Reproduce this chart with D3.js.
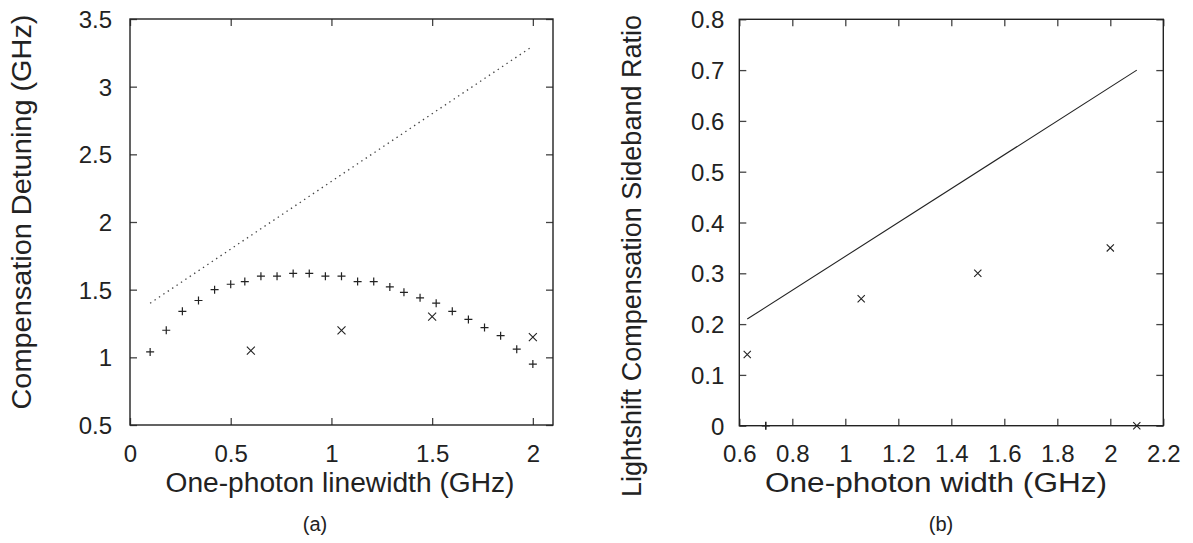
<!DOCTYPE html>
<html>
<head>
<meta charset="utf-8">
<script src="https://cdn.jsdelivr.net/npm/d3@7"></script>
<style>
  html, body { margin: 0; padding: 0; background: #fff; }
  svg { display: block; }
  text { font-family: "Liberation Sans", Arial, Helvetica, sans-serif; fill: #222; }
</style>
</head>
<body>
<svg id="chart" width="1193" height="543"></svg>
<script>
// ---------- data ----------
// Panel (a)
const aPlusX = [0.10, 0.18, 0.26, 0.34, 0.42, 0.50, 0.57, 0.65, 0.73, 0.81, 0.89, 0.97, 1.05,
                1.13, 1.21, 1.29, 1.36, 1.44, 1.52, 1.60, 1.68, 1.76, 1.84, 1.92, 2.00];
const aPlusY = [1.04, 1.20, 1.34, 1.42, 1.50, 1.54, 1.56, 1.60, 1.60, 1.62, 1.62, 1.60, 1.60,
                1.56, 1.56, 1.52, 1.48, 1.44, 1.40, 1.34, 1.28, 1.22, 1.16, 1.06, 0.95];
const aCrossX = [0.60, 1.05, 1.50, 2.00];
const aCrossY = [1.05, 1.20, 1.30, 1.15];
const aLineX = [0.10, 2.00];
const aLineY = [1.40, 3.30];
const aXTicks = [0, 0.5, 1, 1.5, 2];
const aYTicks = [0.5, 1, 1.5, 2, 2.5, 3, 3.5];
const aXDomain = [0, 2.1];
const aYDomain = [0.5, 3.5];
const aXTitle = "One-photon linewidth (GHz)";
const aYTitle = "Compensation Detuning (GHz)";

// Panel (b)
const bCrossX = [0.63, 1.06, 1.50, 2.00, 2.10];
const bCrossY = [0.14, 0.25, 0.30, 0.35, 0.00];
const bPlusX = [0.70];
const bPlusY = [0.00];
const bLineX = [0.63, 2.10];
const bLineY = [0.21, 0.70];
const bXTicks = [0.6, 0.8, 1, 1.2, 1.4, 1.6, 1.8, 2, 2.2];
const bYTicks = [0, 0.1, 0.2, 0.3, 0.4, 0.5, 0.6, 0.7, 0.8];
const bXDomain = [0.6, 2.2];
const bYDomain = [0, 0.8];
const bXTitle = "One-photon width (GHz)";
const bYTitle = "Lightshift Compensation Sideband Ratio";

// ---------- drawing ----------
const svg = d3.select("#chart");
const INK = "#222";

function panel(cfg) {
  const g = svg.append("g");
  const x = d3.scaleLinear().domain(cfg.xDomain).range([cfg.left, cfg.right]);
  const y = d3.scaleLinear().domain(cfg.yDomain).range([cfg.bottom, cfg.top]);
  const fmt = d => String(+d.toFixed(2));

  const xb = g.append("g").attr("transform", `translate(0,${cfg.bottom})`)
    .call(d3.axisBottom(x).tickValues(cfg.xTicks).tickFormat(fmt).tickSize(-7).tickPadding(cfg.xPad));
  const xt = g.append("g").attr("transform", `translate(0,${cfg.top})`)
    .call(d3.axisTop(x).tickValues(cfg.xTicks).tickFormat("").tickSize(-7));
  const yl = g.append("g").attr("transform", `translate(${cfg.left},0)`)
    .call(d3.axisLeft(y).tickValues(cfg.yTicks).tickFormat(fmt).tickSize(-7).tickPadding(cfg.yPad));
  const yr = g.append("g").attr("transform", `translate(${cfg.right},0)`)
    .call(d3.axisRight(y).tickValues(cfg.yTicks).tickFormat("").tickSize(-7));
  [xb, xt, yl, yr].forEach(a => {
    a.select(".domain").remove();
    a.selectAll(".tick line").attr("stroke", "#444").attr("stroke-width", 1.3);
    a.selectAll("text").attr("font-size", cfg.tickFont).attr("fill", INK)
      .style("font-family", '"Liberation Sans", Arial, sans-serif');
  });
  yl.selectAll("text").attr("dy", "0.36em");

  g.append("rect")
    .attr("x", cfg.left).attr("y", cfg.top)
    .attr("width", cfg.right - cfg.left).attr("height", cfg.bottom - cfg.top)
    .attr("fill", "none").attr("stroke", INK).attr("stroke-width", 1.4);

  const lineData = cfg.lineX.map((v, i) => [v, cfg.lineY[i]]);
  g.append("path")
    .attr("d", d3.line().x(d => x(d[0])).y(d => y(d[1]))(lineData))
    .attr("fill", "none")
    .attr("stroke", cfg.lineDash ? "#444" : INK)
    .attr("stroke-width", cfg.lineDash ? 1.3 : 1.1)
    .attr("stroke-dasharray", cfg.lineDash || null);

  const plusData = cfg.plusX.map((v, i) => [v, cfg.plusY[i]]);
  const ps = cfg.plusSize;
  g.append("g").selectAll("path").data(plusData).join("path")
    .attr("d", d => `M${x(d[0]) - ps},${y(d[1])}H${x(d[0]) + ps}M${x(d[0])},${y(d[1]) - ps}V${y(d[1]) + ps}`)
    .attr("stroke", INK).attr("stroke-width", cfg.plusWidth).attr("fill", "none");

  const crossData = cfg.crossX.map((v, i) => [v, cfg.crossY[i]]);
  const cs = cfg.crossSize;
  g.append("g").selectAll("path").data(crossData).join("path")
    .attr("d", d => {
      const cx = x(d[0]), cy = y(d[1]);
      return `M${cx - cs},${cy - cs}L${cx + cs},${cy + cs}M${cx - cs},${cy + cs}L${cx + cs},${cy - cs}`;
    })
    .attr("stroke", INK).attr("stroke-width", 1.1).attr("fill", "none");

  g.append("text")
    .attr("x", cfg.xTitleX).attr("y", cfg.xTitleY)
    .attr("text-anchor", "middle").attr("font-size", cfg.titleFont)
    .attr("textLength", cfg.xTitleLen).attr("lengthAdjust", "spacingAndGlyphs")
    .text(cfg.xTitle);
  g.append("text")
    .attr("transform", `translate(${cfg.yTitleX},${cfg.yTitleY}) rotate(-90)`)
    .attr("text-anchor", "middle").attr("font-size", cfg.titleFont)
    .attr("textLength", cfg.yTitleLen).attr("lengthAdjust", "spacingAndGlyphs")
    .text(cfg.yTitle);
  g.append("text")
    .attr("x", cfg.subX).attr("y", 531)
    .attr("text-anchor", "middle").attr("font-size", 20)
    .text(cfg.sub);
}

panel({
  left: 130, right: 553, top: 19, bottom: 425,
  xDomain: aXDomain, yDomain: aYDomain, xTicks: aXTicks, yTicks: aYTicks,
  xPad: 19.5, yPad: 18, tickFont: 24, titleFont: 27,
  lineX: aLineX, lineY: aLineY, lineDash: "1.4,3.9",
  plusX: aPlusX, plusY: aPlusY, plusSize: 4, plusWidth: 1.2,
  crossX: aCrossX, crossY: aCrossY, crossSize: 4,
  xTitle: aXTitle, xTitleX: 340, xTitleY: 492, xTitleLen: 349,
  yTitle: aYTitle, yTitleX: 31, yTitleY: 212, yTitleLen: 395,
  sub: "(a)", subX: 315
});

panel({
  left: 739.3, right: 1163.3, top: 19.3, bottom: 425.7,
  xDomain: bXDomain, yDomain: bYDomain, xTicks: bXTicks, yTicks: bYTicks,
  xPad: 19.5, yPad: 15, tickFont: 24, titleFont: 27,
  lineX: bLineX, lineY: bLineY, lineDash: null,
  plusX: bPlusX, plusY: bPlusY, plusSize: 4, plusWidth: 1.6,
  crossX: bCrossX, crossY: bCrossY, crossSize: 3.6,
  xTitle: bXTitle, xTitleX: 936, xTitleY: 492, xTitleLen: 342,
  yTitle: bYTitle, yTitleX: 641, yTitleY: 256, yTitleLen: 482,
  sub: "(b)", subX: 941
});
</script>
</body>
</html>
